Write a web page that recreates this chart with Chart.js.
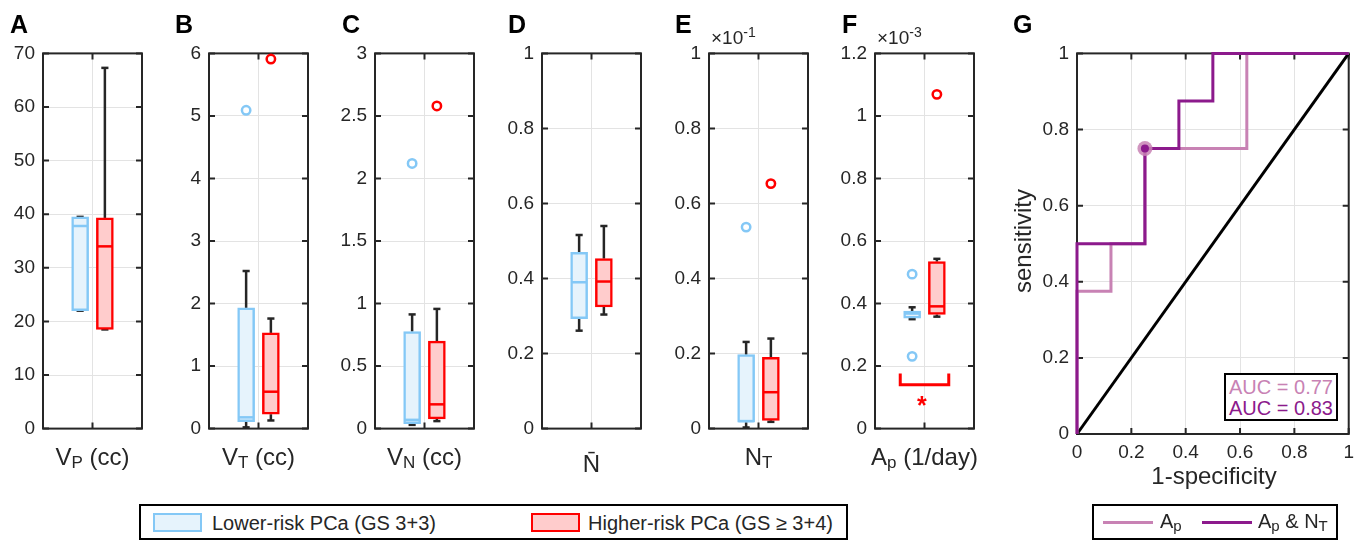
<!DOCTYPE html>
<html>
<head>
<meta charset="utf-8">
<title>Box plots and ROC</title>
<script src="https://cdn.jsdelivr.net/npm/chart.js@4.4.1/dist/chart.umd.min.js"></script>
<style>
  body { margin:0; width:1368px; height:542px; position:relative; overflow:hidden; background:#fff;
         font-family:"Liberation Sans", Arial, sans-serif; color:#262626; }
  canvas { position:absolute; }
  .t { position:absolute; line-height:1; white-space:nowrap; }
  .letter { font-weight:bold; font-size:25px; color:#000; }
  .xlab { font-size:24px; width:200px; text-align:center; }
  .sb { font-size:17px; position:relative; top:3px; }
  .exp { font-size:19px; }
  .sup { font-size:14px; position:relative; top:-7px; }
  .box { position:absolute; box-sizing:border-box; border:2px solid #000; background:#fff; }
  .leg { font-size:20px; }
  .leg .sb { font-size:15px; }
</style>
</head>
<body>
<script>
// ---- data ----
const groupNames = ['Lower-risk PCa (GS 3+3)', 'Higher-risk PCa (GS \u2265 3+4)'];
const panelLetters = ['A', 'B', 'C', 'D', 'E', 'F', 'G'];
const xLabels = ['V<span class="sb">P</span> (cc)', 'V<span class="sb">T</span> (cc)', 'V<span class="sb">N</span> (cc)',
                 'N\u0304', 'N<span class="sb">T</span>', 'A<span class="sb">p</span> (1/day)'];
const yMax = [70, 6, 3, 1, 1, 1.2];
const yStep = [10, 1, 0.5, 0.2, 0.2, 0.2];
const yExponent = ['', '', '', '', '-1', '-3'];

// [lower whisker, q1, median, q3, upper whisker]
const lowerStats = [
  [22, 22, 37.8, 39.5, 39.5],
  [0.02, 0.11, 0.18, 1.93, 2.52],
  [0.03, 0.04, 0.07, 0.776, 0.913],
  [0.261, 0.293, 0.39, 0.47, 0.516],
  [0.003, 0.017, 0.02, 0.197, 0.231],
  [0.35, 0.353, 0.368, 0.376, 0.388]
];
const higherStats = [
  [18.5, 18.5, 34, 39.3, 67.3],
  [0.13, 0.23, 0.59, 1.53, 1.76],
  [0.06, 0.078, 0.194, 0.70, 0.957],
  [0.304, 0.324, 0.392, 0.453, 0.54],
  [0.018, 0.022, 0.097, 0.19, 0.24],
  [0.358, 0.365, 0.391, 0.534, 0.543]
];
const lowerOutliers = [[], [5.09], [2.12], [], [0.537], [0.494, 0.231]];
const higherOutliers = [[], [5.91], [2.58], [], [0.653], [1.069]];

// significance bracket, panel F
const bracketX = [0.255, 0.255, 0.745, 0.745];
const bracketY = [0.176, 0.14, 0.14, 0.176];

// ROC curves, panel G
const fprAp = [0, 0, 0.125, 0.125, 0.25, 0.25, 0.625, 0.625, 1];
const tprAp = [0, 0.375, 0.375, 0.5, 0.5, 0.75, 0.75, 1, 1];
const fprApNt = [0, 0, 0.25, 0.25, 0.375, 0.375, 0.5, 0.5, 1];
const tprApNt = [0, 0.5, 0.5, 0.75, 0.75, 0.875, 0.875, 1, 1];
const opFpr = [0.25];
const opTpr = [0.75];
const aucLabels = ['AUC = 0.77', 'AUC = 0.83'];
const rocNames = ['A<span class="sb">p</span>', 'A<span class="sb">p</span> &amp; N<span class="sb">T</span>'];

// ---- style ----
const EDGE = ['#84c8f6', '#ff0000'];
const FILL = ['#e6f3fc', '#ffcccc'];
const WHISK = '#262626';
const PINK = '#c882b4', PURPLE = '#8c1a8c';
const GRID = '#e3e3e3', AXIS = '#262626';
const FONT = '"Liberation Sans", Arial, sans-serif';
const GROUP_X = [0.375, 0.625];
const BOX_PX = 17, BOX_HALF = 0.078, CAP_HALF = 0.036;

const PLOT_TOP = 48, PLOT_H = 386, AXW = 50, PAD_T = 14, PAD_R = 8, PAD_B = 14;
const boxLefts = [43, 209, 375, 542, 709, 875], BOX_W = 99;
const ROC_LEFT = 1077, ROC_W = 274;

const frame = {
  id: 'frame',
  beforeDatasetsDraw(chart) {
    const { ctx, chartArea: a, scales: { x, y } } = chart;
    ctx.save();
    ctx.strokeStyle = AXIS;
    ctx.lineWidth = 2;
    ctx.beginPath();
    y.ticks.forEach(t => {
      const p = y.getPixelForValue(t.value);
      ctx.moveTo(a.left, p); ctx.lineTo(a.left + 6, p);
      ctx.moveTo(a.right, p); ctx.lineTo(a.right - 6, p);
    });
    x.ticks.forEach(t => {
      const p = x.getPixelForValue(t.value);
      ctx.moveTo(p, a.top); ctx.lineTo(p, a.top + 6);
      ctx.moveTo(p, a.bottom); ctx.lineTo(p, a.bottom - 6);
    });
    ctx.stroke();
    ctx.strokeRect(a.left, a.top, a.width, a.height);
    ctx.restore();
  }
};

const fmt = v => String(+v.toFixed(3));

function yScale(max, step) {
  return {
    type: 'linear', min: 0, max,
    ticks: { stepSize: step, padding: 8, color: AXIS, font: { family: FONT, size: 19 }, callback: fmt },
    grid: { color: GRID, lineWidth: 1, drawTicks: false },
    border: { display: false },
    afterFit: s => { s.width = AXW; }
  };
}

function makeCanvas(left, top, w, h) {
  const c = document.createElement('canvas');
  c.width = w; c.height = h;
  c.style.cssText = `left:${left}px;top:${top}px;width:${w}px;height:${h}px`;
  document.body.appendChild(c);
  return c;
}

function seg(pts, color, width, order) {
  return { type: 'line', data: pts.map(([x, y]) => ({ x, y })), borderColor: color, borderWidth: width,
           pointRadius: 0, fill: false, tension: 0, order, clip: false };
}

function addText(html, cls, css) {
  const d = document.createElement('div');
  d.className = 't ' + cls;
  d.innerHTML = html;
  d.style.cssText += css;
  document.body.appendChild(d);
  return d;
}

// ---- box plot panels ----
boxLefts.forEach((left, i) => {
  const datasets = [];
  [lowerStats[i], higherStats[i]].forEach((s, g) => {
    const cx = GROUP_X[g];
    const [wl, q1, med, q3, wh] = s;
    datasets.push(seg([[cx, q3], [cx, wh]], WHISK, 2.5, 3));
    datasets.push(seg([[cx, q1], [cx, wl]], WHISK, 2.5, 3));
    datasets.push(seg([[cx - CAP_HALF, wh], [cx + CAP_HALF, wh]], WHISK, 2.5, 3));
    datasets.push(seg([[cx - CAP_HALF, wl], [cx + CAP_HALF, wl]], WHISK, 2.5, 3));
    datasets.push({ type: 'bar', data: [{ x: cx, y: [q1, q3] }], backgroundColor: FILL[g], borderColor: EDGE[g],
                    borderWidth: 2.5, borderSkipped: false, barThickness: BOX_PX, grouped: false, order: 2, clip: false });
    datasets.push(seg([[cx - BOX_HALF, med], [cx + BOX_HALF, med]], EDGE[g], 2.5, 1));
    const outs = [lowerOutliers, higherOutliers][g][i];
    if (outs.length) {
      datasets.push({ type: 'scatter', data: outs.map(y => ({ x: cx, y })), pointRadius: 4.2, pointBorderWidth: 2.5,
                      pointBorderColor: EDGE[g], pointBackgroundColor: 'rgba(0,0,0,0)', order: 0, clip: false });
    }
  });
  if (i === 5) datasets.push(seg(bracketX.map((x, k) => [x, bracketY[k]]), '#ff0000', 3, 0));

  const w = AXW + BOX_W + PAD_R, h = PAD_T + PLOT_H + PAD_B;
  const cv = makeCanvas(left - AXW, PLOT_TOP - PAD_T, w, h);
  new Chart(cv, {
    type: 'scatter',
    data: { datasets },
    options: {
      responsive: false, animation: false, events: [],
      layout: { padding: { top: PAD_T, right: PAD_R, left: 0, bottom: 0 } },
      plugins: { legend: { display: false }, tooltip: { enabled: false } },
      scales: {
        x: { type: 'linear', min: 0, max: 1, offset: false,
             ticks: { display: false }, grid: { color: GRID, drawTicks: false, offset: false }, border: { display: false },
             afterBuildTicks: s => { s.ticks = [{ value: 0.5 }]; },
             afterFit: s => { s.height = PAD_B; } },
        y: yScale(yMax[i], yStep[i])
      }
    },
    plugins: [frame]
  });
});

// ---- ROC panel ----
{
  const padR = 10, padB = 30;
  const cv = makeCanvas(ROC_LEFT - AXW, PLOT_TOP - PAD_T, AXW + ROC_W + padR, PAD_T + PLOT_H + padB);
  const pts = (xs, ys) => xs.map((x, k) => ({ x, y: ys[k] }));
  new Chart(cv, {
    type: 'scatter',
    data: {
      datasets: [
        { type: 'line', data: [{ x: 0, y: 0 }, { x: 1, y: 1 }], borderColor: '#000', borderWidth: 3, pointRadius: 0, order: 4, clip: false },
        { type: 'line', data: pts(fprAp, tprAp), borderColor: PINK, borderWidth: 3, pointRadius: 0, order: 3, clip: false },
        { type: 'line', data: pts(fprApNt, tprApNt), borderColor: PURPLE, borderWidth: 3, pointRadius: 0, order: 2, clip: false },
        { type: 'scatter', data: pts(opFpr, opTpr), pointRadius: 7.5, pointBorderWidth: 0, pointBackgroundColor: 'rgba(200,130,180,0.85)', order: 1, clip: false },
        { type: 'scatter', data: pts(opFpr, opTpr), pointRadius: 4, pointBorderWidth: 0, pointBackgroundColor: PURPLE, order: 0, clip: false }
      ]
    },
    options: {
      responsive: false, animation: false, events: [],
      layout: { padding: { top: PAD_T, right: padR, left: 0, bottom: 0 } },
      plugins: { legend: { display: false }, tooltip: { enabled: false } },
      scales: {
        x: { type: 'linear', min: 0, max: 1, offset: false,
             ticks: { stepSize: 0.2, padding: 7, maxRotation: 0, autoSkip: false, color: AXIS, font: { family: FONT, size: 19 }, callback: fmt },
             grid: { color: GRID, drawTicks: false }, border: { display: false },
             afterFit: s => { s.height = padB; } },
        y: yScale(1, 0.2)
      }
    },
    plugins: [frame]
  });
}

// ---- text ----
const letterLefts = [10, 175, 342, 508, 675, 842, 1013];
panelLetters.forEach((l, i) => addText(l, 'letter', `left:${letterLefts[i]}px;top:12px`));
xLabels.forEach((html, i) => {
  const top = i === 3 ? 452 : 445;
  addText(html, 'xlab', `left:${boxLefts[i] + BOX_W / 2 - 100}px;top:${top}px`);
  if (yExponent[i]) addText(`\u00d710<span class="sup">${yExponent[i]}</span>`, 'exp', `left:${boxLefts[i] + 2}px;top:28px`);
});
addText('*', '', 'left:917px;top:393px;font-size:25px;font-weight:bold;color:#ff0000');
addText('1-specificity', 'xlab', `left:${ROC_LEFT + ROC_W / 2 - 100}px;top:464px`);
addText('sensitivity', 'xlab', 'left:923px;top:229px;transform:rotate(-90deg);transform-origin:100px 12px');

// AUC box
const auc = document.createElement('div');
auc.className = 'box';
auc.style.cssText += 'left:1224px;top:373px;width:114px;height:48px';
document.body.appendChild(auc);
addText(aucLabels[0], 'leg', `left:1229px;top:377px;color:${PINK}`);
addText(aucLabels[1], 'leg', `left:1229px;top:398px;color:${PURPLE}`);

// bottom legend (groups)
const lg = document.createElement('div');
lg.className = 'box';
lg.style.cssText += 'left:139px;top:504px;width:709px;height:36px';
document.body.appendChild(lg);
[[153, 212], [531, 588]].forEach(([sx, tx], g) => {
  const sw = document.createElement('div');
  sw.style.cssText = `position:absolute;box-sizing:border-box;left:${sx}px;top:513px;width:49px;height:19px;border:2px solid ${EDGE[g]};background:${FILL[g]}`;
  document.body.appendChild(sw);
  addText(groupNames[g], 'leg', `left:${tx}px;top:513px`);
});

// ROC legend
const lr = document.createElement('div');
lr.className = 'box';
lr.style.cssText += 'left:1092px;top:504px;width:246px;height:36px';
document.body.appendChild(lr);
[[1103, 1160, PINK], [1202, 1258, PURPLE]].forEach(([lx, tx, col], k) => {
  const ln = document.createElement('div');
  ln.style.cssText = `position:absolute;left:${lx}px;top:521px;width:50px;height:3px;background:${col}`;
  document.body.appendChild(ln);
  addText(rocNames[k], 'leg', `left:${tx}px;top:511px`);
});
</script>
</body>
</html>
